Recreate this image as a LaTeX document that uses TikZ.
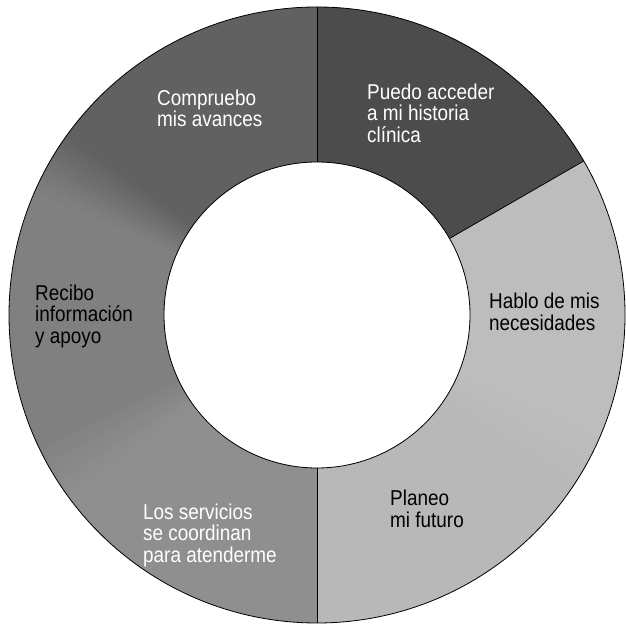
\documentclass[tikz,border=0pt]{standalone}
\usepackage{fontspec}
\setmainfont{Liberation Sans}[FakeStretch=0.88]
\usetikzlibrary{calc}
\definecolor{segA}{gray}{0.30}% Puedo acceder
\definecolor{segB}{gray}{0.38}% Compruebo
\definecolor{segC}{gray}{0.50}% Recibo
\definecolor{segD}{gray}{0.56}% Los servicios
\definecolor{segE}{gray}{0.72}% Planeo
\definecolor{segF}{gray}{0.74}% Hablo
\tikzset{
  lbl/.style={anchor=west, align=left, inner sep=0pt,
    font=\fontsize{21.5}{21.5}\selectfont},
  lblw/.style={lbl, text=white},
  lblk/.style={lbl, text=black},
  edge/.style={draw=black, line width=0.8pt}
}
\newcommand{\ringseg}[3]{%
  \fill[#3] ($(C)+(#1:308)$) arc[start angle=#1, end angle=#2, radius=308]
    -- ($(C)+(#2:153)$) arc[start angle=#2, end angle=#1, radius=153] -- cycle;}
\newcommand{\ringblend}[3]{% centre angle, colour before, colour after
  \foreach \i in {0,...,11}{%
    \pgfmathsetmacro\sa{#1-6+\i}%
    \pgfmathsetmacro\ea{#1-6+\i+1.3}%
    \pgfmathsetmacro\mx{100*(\i+0.5)/12}%
    \ringseg{\sa}{\ea}{#3!\mx!#2}}}
\begin{document}
\begin{tikzpicture}[x=1pt,y=1pt]
\useasboundingbox (0,0) rectangle (625,628);
\fill[white] (0,0) rectangle (625,628);
\coordinate (C) at (317,313);
\ringseg{30}{90}{segA}
\ringseg{90}{150.5}{segB}
\ringseg{149.5}{210.5}{segC}
\ringseg{209.5}{270}{segD}
\ringseg{270}{330.5}{segE}
\ringseg{329.5}{390}{segF}
\ringblend{150}{segB}{segC}
\ringblend{210}{segC}{segD}
\ringblend{330}{segE}{segF}
\draw[edge] (C) circle[radius=308];
\draw[edge] (C) circle[radius=153];
\draw[edge] ($(C)+(90:153)$) -- ($(C)+(90:308)$);
\draw[edge] ($(C)+(30:153)$) -- ($(C)+(30:308)$);
\draw[edge] ($(C)+(270:153)$) -- ($(C)+(270:308)$);
\node[lblw] (compruebo) at (157,519.5) {Compruebo\\mis avances};
\node[lblw] (puedo) at (367,515) {Puedo acceder\\a mi historia\\clínica};
\node[lblk] (recibo) at (35,312) {Recibo\\información\\y apoyo};
\node[lblk] (hablo) at (489,316) {Hablo de mis\\necesidades};
\node[lblw] (servicios) at (143,93) {Los servicios\\se coordinan\\para atenderme};
\node[lblk] (planeo) at (390,119) {Planeo\\mi futuro};
\end{tikzpicture}
\end{document}
